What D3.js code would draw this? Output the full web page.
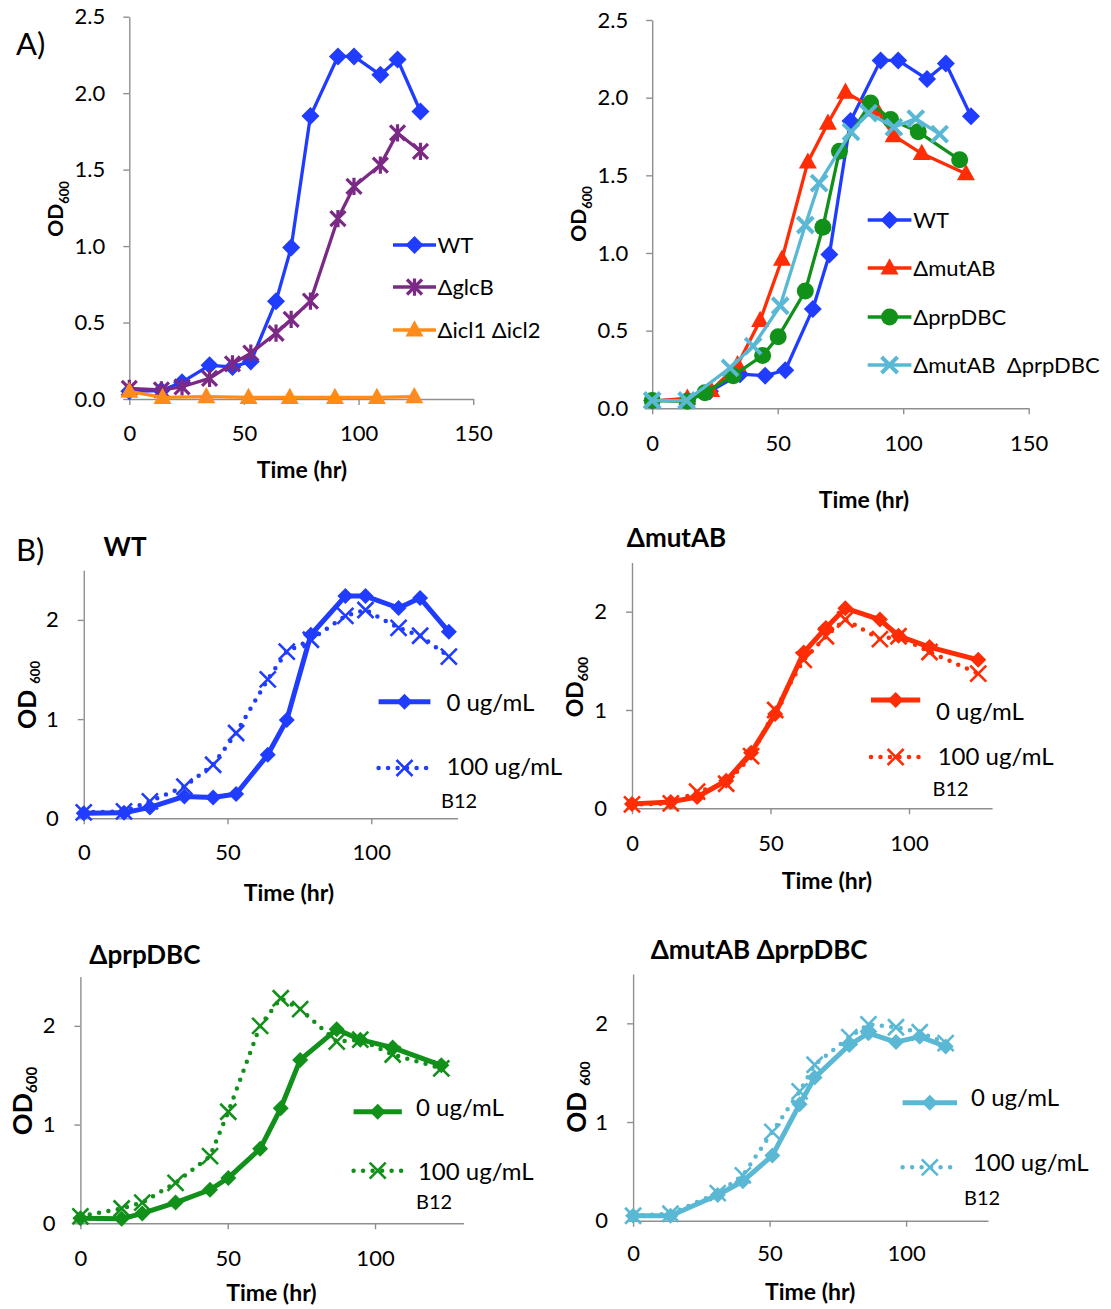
<!DOCTYPE html>
<html><head><meta charset="utf-8">
<script src="https://cdn.jsdelivr.net/npm/d3@7"></script>
<style>
body{margin:0;background:#fff}
svg{display:block}
text{font-family:Lato,'Open Sans',sans-serif;fill:#000;white-space:pre}
</style>
</head><body>
<svg id="c" width="1111" height="1309"></svg>
<script>
// ---------------- data ----------------
const xTicksA = [0, 50, 100, 150];
const yTicksA = [0, 0.5, 1.0, 1.5, 2.0, 2.5];
const xTicksB = [0, 50, 100];
const yTicksB = [0, 1, 2];

const wtTime = [0, 14, 23, 35, 45, 53, 64, 70.6, 79, 91, 98, 109.5, 117, 127];
const wtOD   = [0.05, 0.055, 0.11, 0.22, 0.21, 0.245, 0.64, 0.99, 1.85, 2.24, 2.24, 2.12, 2.22, 1.88];
const wtB12  = [0.06, 0.07, 0.17, 0.32, 0.54, 0.86, 1.40, 1.68, 1.80, 2.04, 2.10, 1.92, 1.84, 1.63];

const glcBOD = [0.07, 0.06, 0.08, 0.135, 0.23, 0.30, 0.43, 0.52, 0.64, 1.18, 1.39, 1.53, 1.74, 1.62];

const iclTime = [0, 14.5, 33.6, 52, 70, 89.7, 108, 124.3];
const iclOD   = [0.05, 0.01, 0.015, 0.01, 0.01, 0.01, 0.01, 0.015];

const mutABTime = [0, 14, 23.5, 34, 43, 51.7, 62, 70, 77, 89.5, 96.2, 107.4, 125];
const mutABOD   = [0.045, 0.065, 0.115, 0.28, 0.565, 0.96, 1.585, 1.835, 2.035, 1.92, 1.755, 1.64, 1.51];
const mutABB12  = [0.04, 0.05, 0.17, 0.25, 0.53, 1.0, 1.51, 1.75, 1.92, 1.72, 1.75, 1.59, 1.37];

const prpTime = [0, 14, 21, 32.3, 44, 50.2, 61, 68, 74.6, 87, 95, 106, 122.5];
const prpOD   = [0.05, 0.045, 0.1, 0.21, 0.34, 0.46, 0.755, 1.165, 1.655, 1.965, 1.86, 1.78, 1.60];
const prpB12  = [0.07, 0.15, 0.21, 0.41, 0.68, 1.13, 2.0, 2.28, 2.17, 1.84, 1.86, 1.71, 1.57];

const dblTime = [0, 13.7, 31, 40.2, 51, 61, 66.5, 79.2, 86.2, 96.3, 105, 114.5];
const dblOD   = [0.05, 0.05, 0.26, 0.40, 0.66, 1.18, 1.45, 1.78, 1.90, 1.81, 1.865, 1.765];
const dblB12  = [0.05, 0.07, 0.28, 0.46, 0.90, 1.31, 1.58, 1.86, 1.99, 1.96, 1.91, 1.80];

const strainLabels = ["WT", "ΔglcB", "Δicl1 Δicl2", "ΔmutAB", "ΔprpDBC", "ΔmutAB  ΔprpDBC"];
const doseLabels = ["0 ug/mL", "100 ug/mL"];

// ---------------- colours ----------------
const C = {blue:"#1f3cff", purple:"#7a2a85", orange:"#ff8c1a", red:"#ff2d05", green:"#11901a", cyan:"#5ab8d4"};

const svg = d3.select("#c");

function zip(t, v){ return t.map((d,i)=>[d, v[i]]); }

function marker(g, type, cx, cy, color, s, sw){
  if(type==="diamond"){
    g.append("path").attr("d",`M${cx},${cy-s}L${cx+s},${cy}L${cx},${cy+s}L${cx-s},${cy}Z`).attr("fill",color);
  } else if(type==="triangle"){
    const h = s*1.8;
    g.append("path").attr("d",`M${cx},${cy-h*0.6}L${cx+s},${cy+h*0.4}L${cx-s},${cy+h*0.4}Z`).attr("fill",color);
  } else if(type==="circle"){
    g.append("circle").attr("cx",cx).attr("cy",cy).attr("r",s).attr("fill",color);
  } else if(type==="x" || type==="star"){
    g.append("path").attr("d",`M${cx-s},${cy-s}L${cx+s},${cy+s}M${cx-s},${cy+s}L${cx+s},${cy-s}` + (type==="star"?`M${cx},${cy-s*1.15}L${cx},${cy+s*1.15}`:""))
      .attr("stroke",color).attr("stroke-width",sw).attr("fill","none").attr("stroke-linecap","butt");
  }
}

function drawSeries(g, x, y, s){
  const line = d3.line().x(d=>x(d[0])).y(d=>y(d[1]));
  const data = zip(s.t, s.v);
  const p = g.append("path").datum(data).attr("d", line).attr("fill","none")
    .attr("stroke", s.color).attr("stroke-width", s.lw).attr("stroke-linejoin","round");
  if(s.dotted) p.attr("stroke-dasharray","0 9.5").attr("stroke-linecap","round");
  const mg = g.append("g");
  data.forEach(d=>marker(mg, s.marker, x(d[0]), y(d[1]), s.color, s.ms, s.msw));
}

function legendEntry(g, s, lx0, lx1, ly){
  const p = g.append("line").attr("x1",lx0).attr("x2",lx1).attr("y1",ly).attr("y2",ly)
    .attr("stroke",s.color).attr("stroke-width",s.lw);
  if(s.dotted) p.attr("stroke-dasharray","0 9.5").attr("stroke-linecap","round");
  marker(g, s.marker, (lx0+lx1)/2, ly, s.color, s.ms, s.msw);
}

function yLabel(g, bx, cy, fs, subfs, gap, subdy){
  const t = g.append("text").attr("transform",`translate(${bx},${cy}) rotate(-90)`)
    .attr("text-anchor","middle").attr("font-weight","bold").attr("font-size",fs);
  t.append("tspan").text("OD" + gap);
  t.append("tspan").attr("font-size",subfs).attr("dy",subdy).text("600");
}

function panel(p){
  const x = d3.scaleLinear().domain([0, p.xMax]).range([p.x0, p.x1]);
  const y = d3.scaleLinear().domain([0, 2.5]).range([p.y0, p.y1]);
  const g = svg.append("g");
  const xa = g.append("g").attr("transform",`translate(0,${p.y0})`)
    .call(d3.axisBottom(x).tickValues(p.xTicks).tickSize(6).tickSizeOuter(0).tickPadding(p.xPad).tickFormat(d3.format("d")));
  const ya = g.append("g").attr("transform",`translate(${p.x0},0)`)
    .call(d3.axisLeft(y).tickValues(p.yTicks).tickSize(6).tickSizeOuter(0).tickPadding(p.yPad).tickFormat(p.yFmt));
  [xa, ya].forEach(a=>{
    a.select(".domain").attr("stroke","#8f8f8f").attr("stroke-width",1.4);
    a.selectAll(".tick line").attr("stroke","#8f8f8f").attr("stroke-width",1.4);
    a.selectAll(".tick text").attr("font-size",p.tickFs).attr("font-family","Lato,'Open Sans',sans-serif").attr("fill","#000");
  });
  p.series.forEach(s=>drawSeries(g, x, y, s));
  // axis titles
  g.append("text").attr("x",p.tx).attr("y",p.ty).attr("dy","0.35em").attr("text-anchor","middle")
    .attr("font-weight","bold").attr("font-size",p.titleFs).text("Time (hr)");
  yLabel(g, p.ylx, p.yly, p.ylFs, p.ylSubFs, p.ylGap, p.ylSubDy);
  // legend
  p.legend.forEach(e=>{
    legendEntry(g, p.series[e.i], e.lx0, e.lx1, e.ly);
    g.append("text").attr("x",e.tx).attr("y",e.ty).attr("dy","0.35em").attr("font-size",p.legFs).text(e.label);
  });
  if(p.b12) g.append("text").attr("x",p.b12[0]).attr("y",p.b12[1]).attr("dy","0.35em").attr("font-size",20).text("B12");
  if(p.title) g.append("text").attr("x",p.title[0]).attr("y",p.title[1]).attr("dy","0.35em").attr("font-size",26).attr("font-weight","bold").text(p.title[2]);
}

const A = (t,v,color,marker,ms,msw)=>({t,v,color,marker,ms,msw,lw:3.3});
const S0 = (t,v,color)=>({t,v,color,marker:"diamond",ms:8,lw:5});
const S1 = (t,v,color)=>({t,v,color,marker:"x",ms:8,msw:2.6,lw:4.5,dotted:true});

// Panel A left
panel({x0:129.3,x1:473.2,y0:399,y1:16.7,xMax:150,xTicks:xTicksA,yTicks:yTicksA,yFmt:d3.format(".1f"),
  xPad:20,yPad:18,tickFs:22,titleFs:23,legFs:22,tx:302,ty:470,
  ylx:62.5,yly:209,ylFs:21,ylSubFs:13,ylGap:"",ylSubDy:6,
  series:[A(wtTime,wtOD,C.blue,"diamond",9), A(wtTime,glcBOD,C.purple,"star",7.5,3.2), A(iclTime,iclOD,C.orange,"triangle",9)],
  legend:[{i:0,label:strainLabels[0],lx0:393,lx1:436,ly:245,tx:437.5,ty:245},
          {i:1,label:strainLabels[1],lx0:393,lx1:436,ly:287,tx:437.5,ty:287},
          {i:2,label:strainLabels[2],lx0:393,lx1:436,ly:330,tx:437.5,ty:330}]});

// Panel A right
panel({x0:652.2,x1:1028.7,y0:408.3,y1:20,xMax:150,xTicks:xTicksA,yTicks:yTicksA,yFmt:d3.format(".1f"),
  xPad:21,yPad:18,tickFs:22,titleFs:23,legFs:22,tx:864,ty:500,
  ylx:585.5,yly:214,ylFs:21,ylSubFs:13,ylGap:"",ylSubDy:6,
  series:[A(wtTime,wtOD,C.blue,"diamond",9), A(mutABTime,mutABOD,C.red,"triangle",9),
          A(prpTime,prpOD,C.green,"circle",8.5), A(dblTime,dblOD,C.cyan,"x",8,4)],
  legend:[{i:0,label:strainLabels[0],lx0:867.7,lx1:911.4,ly:220,tx:913.3,ty:220},
          {i:1,label:strainLabels[3],lx0:867.7,lx1:911.4,ly:268,tx:913.3,ty:268},
          {i:2,label:strainLabels[4],lx0:867.7,lx1:911.4,ly:317,tx:913.3,ty:317},
          {i:3,label:strainLabels[5],lx0:867.7,lx1:911.4,ly:365,tx:913.3,ty:365}]});

// Panel B WT
panel({x0:83.75,x1:457.5,y0:818.3,y1:570.3,xMax:130,xTicks:xTicksB,yTicks:yTicksB,yFmt:d3.format("d"),
  xPad:20,yPad:19,tickFs:22,titleFs:23,legFs:24,tx:289,ty:893,
  ylx:35.7,yly:695,ylFs:25,ylSubFs:13,ylGap:" ",ylSubDy:4,
  series:[S0(wtTime,wtOD,C.blue), S1(wtTime,wtB12,C.blue)],
  legend:[{i:0,label:doseLabels[0],lx0:378.6,lx1:430.4,ly:701.7,tx:446.4,ty:702.7},
          {i:1,label:doseLabels[1],lx0:378.6,lx1:430.4,ly:768,tx:446.4,ty:766.7}],
  b12:[441,800.7], title:[103.6,546.7,"WT"]});

// Panel B ΔmutAB
panel({x0:632,x1:992.1,y0:808.3,y1:562.5,xMax:130,xTicks:xTicksB,yTicks:yTicksB,yFmt:d3.format("d"),
  xPad:21,yPad:19,tickFs:22,titleFs:23,legFs:24,tx:827,ty:881,
  ylx:582.8,yly:687,ylFs:23,ylSubFs:14,ylGap:"",ylSubDy:5,
  series:[S0(mutABTime,mutABOD,C.red), S1(mutABTime,mutABB12,C.red)],
  legend:[{i:0,label:doseLabels[0],lx0:871,lx1:920.2,ly:700,tx:936,ty:711.7},
          {i:1,label:doseLabels[1],lx0:871,lx1:920.2,ly:757,tx:937.7,ty:756.7}],
  b12:[932.5,789], title:[626.8,538,"ΔmutAB"]});

// Panel B ΔprpDBC
panel({x0:80.4,x1:463.4,y0:1223.3,y1:976.5,xMax:130,xTicks:xTicksB,yTicks:yTicksB,yFmt:d3.format("d"),
  xPad:21,yPad:19,tickFs:22,titleFs:23,legFs:24,tx:271.4,ty:1293,
  ylx:32.1,yly:1101,ylFs:27,ylSubFs:15,ylGap:"",ylSubDy:5,
  series:[S0(prpTime,prpOD,C.green), S1(prpTime,prpB12,C.green)],
  legend:[{i:0,label:doseLabels[0],lx0:353.6,lx1:401.8,ly:1111.7,tx:416,ty:1108},
          {i:1,label:doseLabels[1],lx0:353.6,lx1:401.8,ly:1170.7,tx:417.9,ty:1172}],
  b12:[416,1201.7], title:[89.3,955,"ΔprpDBC"]});

// Panel B ΔmutAB ΔprpDBC
panel({x0:633.1,x1:988,y0:1220.7,y1:974,xMax:130,xTicks:xTicksB,yTicks:yTicksB,yFmt:d3.format("d"),
  xPad:19,yPad:19,tickFs:22,titleFs:23,legFs:24,tx:810.2,ty:1292,
  ylx:586.4,yly:1097,ylFs:26,ylSubFs:14,ylGap:" ",ylSubDy:4,
  series:[S0(dblTime,dblOD,C.cyan), S1(dblTime,dblB12,C.cyan)],
  legend:[{i:0,label:doseLabels[0],lx0:902.6,lx1:957,ly:1102.7,tx:971.1,ty:1098},
          {i:1,label:doseLabels[1],lx0:902.6,lx1:957,ly:1167.3,tx:972.9,ty:1163}],
  b12:[964.1,1198], title:[650.7,950,"ΔmutAB ΔprpDBC"]});

// panel letters
svg.append("text").attr("x",16).attr("y",44).attr("dy","0.35em").attr("font-size",31).text("A)");
svg.append("text").attr("x",16).attr("y",550).attr("dy","0.35em").attr("font-size",31).text("B)");
</script>
</body></html>
